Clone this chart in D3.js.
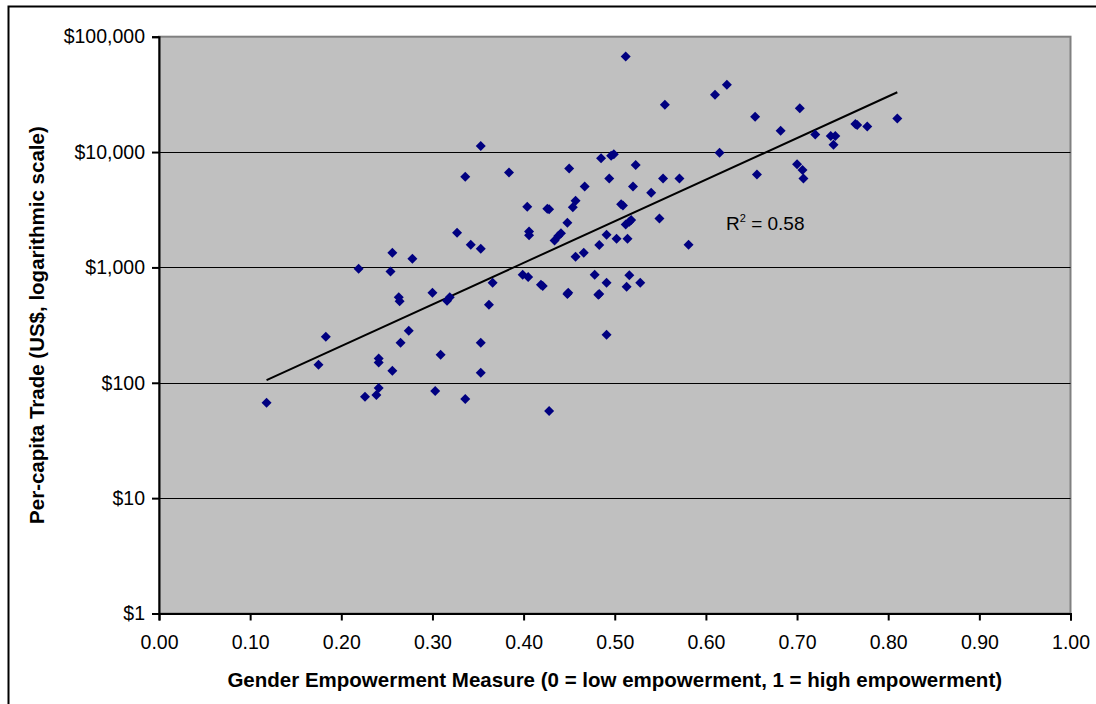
<!DOCTYPE html>
<html>
<head>
<meta charset="utf-8">
<script src="https://cdn.jsdelivr.net/npm/d3@7"></script>
<style>
  body { margin: 0; background: #fff; }
  svg text { font-family: Arial, "Liberation Sans", sans-serif; fill: #000; }
</style>
</head>
<body>
<div id="chart"></div>
<script>
// Gender Empowerment Measure (x) and per-capita trade in US$ (y), one entry per country
var gem = [
    0.353, 0.336, 0.327, 0.342, 0.353, 0.256, 0.278, 0.219, 0.254, 0.512,
    0.623, 0.610, 0.555, 0.654, 0.703, 0.682, 0.615, 0.700, 0.656, 0.485,
    0.496, 0.499, 0.523, 0.450, 0.384, 0.494, 0.467, 0.520, 0.553, 0.571,
    0.540, 0.404, 0.426, 0.428, 0.457, 0.454, 0.507, 0.509, 0.448, 0.406,
    0.406, 0.441, 0.438, 0.434, 0.491, 0.518, 0.516, 0.512, 0.549, 0.483,
    0.502, 0.514, 0.457, 0.466, 0.581, 0.720, 0.737, 0.742, 0.740, 0.764,
    0.766, 0.777, 0.810, 0.706, 0.707, 0.300, 0.316, 0.319, 0.366, 0.362,
    0.263, 0.264, 0.183, 0.274, 0.265, 0.353, 0.309, 0.175, 0.241, 0.241,
    0.256, 0.353, 0.118, 0.241, 0.226, 0.2385, 0.303, 0.336, 0.399, 0.405,
    0.419, 0.421, 0.448, 0.449, 0.478, 0.491, 0.482, 0.483, 0.516, 0.513,
    0.528, 0.491, 0.428
];
var trade = [
    11300, 6120, 2000, 1575, 1450, 1340, 1190, 975, 920, 67500,
    38300, 31400, 25700, 20200, 24000, 15300, 9840, 7850, 6380, 8850,
    9270, 9590, 7740, 7190, 6640, 5890, 5020, 5020, 5890, 5890,
    4450, 3360, 3230, 3200, 3790, 3320, 3530, 3450, 2440, 2050,
    1900, 1980, 1870, 1710, 1920, 2580, 2490, 2350, 2650, 1565,
    1775, 1775, 1240, 1340, 1575, 14200, 13800, 13800, 11550, 17500,
    17200, 16650, 19500, 7000, 5890, 603, 514, 550, 737, 475,
    550, 510, 250, 282, 222, 222, 175, 143, 162, 150,
    127, 122, 67, 90, 75.5, 78.5, 85, 72.5, 864, 825,
    708, 690, 588, 603, 864, 737, 580, 588, 854, 680,
    737, 261, 57
];
var xTicks = [0, 0.1, 0.2, 0.3, 0.4, 0.5, 0.6, 0.7, 0.8, 0.9, 1.0];
var yTicks = [1, 10, 100, 1000, 10000, 100000];
var r2Label = '0.58';

var cfg = {
    w: 1096,
    h: 704,
    pLeft: 159,
    pRight: 1070.5,
    pTop: 36.7,
    pBottom: 613.5,
    fontSize: 19.5
};

var svg = d3.select('#chart').append('svg')
    .attr('width', cfg.w)
    .attr('height', cfg.h);

// outer chart frame
svg.append('rect')
    .attr('x', 8.5).attr('y', 6.5)
    .attr('width', cfg.w + 20).attr('height', cfg.h + 20)
    .attr('fill', '#fff')
    .attr('stroke', '#000')
    .attr('stroke-width', 2);

var x = d3.scaleLinear().domain([0, 1]).range([cfg.pLeft, cfg.pRight]);
var y = d3.scaleLog().domain([1, 100000]).range([cfg.pBottom, cfg.pTop]);

// plot area
svg.append('rect')
    .attr('x', cfg.pLeft).attr('y', cfg.pTop)
    .attr('width', cfg.pRight - cfg.pLeft).attr('height', cfg.pBottom - cfg.pTop)
    .attr('fill', '#c0c0c0')
    .attr('stroke', '#808080')
    .attr('stroke-width', 2);

// gridlines
svg.append('g')
    .selectAll('line')
    .data(yTicks.slice(1, -1))
    .enter()
    .append('line')
    .attr('x1', cfg.pLeft).attr('x2', cfg.pRight)
    .attr('y1', function(d) { return Math.round(y(d)) + 0.5; })
    .attr('y2', function(d) { return Math.round(y(d)) + 0.5; })
    .attr('stroke', '#000')
    .attr('stroke-width', 1);

var fmt = d3.format(',');
var yAxis = d3.axisLeft(y).tickValues(yTicks)
    .tickFormat(function(d) { return '$' + fmt(d); })
    .tickSize(7).tickPadding(7);
var xAxis = d3.axisBottom(x).tickValues(xTicks)
    .tickFormat(d3.format('.2f'))
    .tickSize(7).tickPadding(15);

svg.append('g')
    .attr('transform', 'translate(' + cfg.pLeft + ',0)')
    .call(customAxis, yAxis);
svg.append('g')
    .attr('transform', 'translate(0,' + cfg.pBottom + ')')
    .call(customAxis, xAxis);

function customAxis(g, axis) {
    g.call(axis);
    g.select('.domain').attr('stroke', '#000').attr('stroke-width', 2);
    g.selectAll('.tick line').attr('stroke', '#000').attr('stroke-width', 2);
    g.selectAll('.tick text')
        .style('font-size', cfg.fontSize + 'px')
        .style('font-family', 'Arial, "Liberation Sans", sans-serif')
        .attr('fill', '#000');
}

// exponential trendline: least squares of log10(trade) on gem
var n = gem.length,
    mx = d3.mean(gem),
    my = d3.mean(trade, function(d) { return Math.log10(d); });
var sxy = 0, sxx = 0;
for (var i = 0; i < n; i++) {
    sxy += (gem[i] - mx) * (Math.log10(trade[i]) - my);
    sxx += (gem[i] - mx) * (gem[i] - mx);
}
var slope = sxy / sxx, icpt = my - slope * mx;
var xr = d3.extent(gem);
svg.append('line')
    .attr('x1', x(xr[0])).attr('y1', y(Math.pow(10, icpt + slope * xr[0])))
    .attr('x2', x(xr[1])).attr('y2', y(Math.pow(10, icpt + slope * xr[1])))
    .attr('stroke', '#000')
    .attr('stroke-width', 2);

// diamonds
svg.append('g')
    .selectAll('path')
    .data(gem.map(function(d, i) { return [d, trade[i]]; }))
    .enter()
    .append('path')
    .attr('d', 'M0,-5L5,0L0,5L-5,0Z')
    .attr('transform', function(d) { return 'translate(' + x(d[0]) + ',' + y(d[1]) + ')'; })
    .attr('fill', '#000080');

// R squared label
var r2 = svg.append('text')
    .attr('x', 726).attr('y', 230)
    .style('font-size', '19px');
r2.append('tspan').text('R');
r2.append('tspan').attr('dy', -8).style('font-size', '11px').text('2');
r2.append('tspan').attr('dy', 8).text(' = ' + r2Label);

// axis titles
svg.append('text')
    .attr('x', (cfg.pLeft + cfg.pRight) / 2).attr('y', 687)
    .attr('text-anchor', 'middle')
    .style('font-size', '20.5px').style('font-weight', 'bold')
    .text('Gender Empowerment Measure (0 = low empowerment, 1 = high empowerment)');

svg.append('text')
    .attr('transform', 'translate(44,' + (cfg.pTop + cfg.pBottom) / 2 + ') rotate(-90)')
    .attr('text-anchor', 'middle')
    .style('font-size', '20.5px').style('font-weight', 'bold')
    .text('Per-capita Trade (US$, logarithmic scale)');
</script>
</body>
</html>
